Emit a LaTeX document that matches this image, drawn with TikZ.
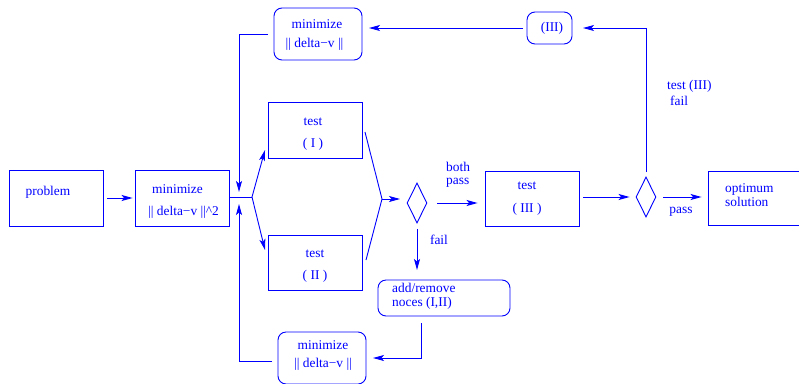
\documentclass[tikz,border=0pt]{standalone}
\usepackage{fontspec}
\setmainfont{Liberation Serif}
\usetikzlibrary{arrows.meta,shapes.geometric}
\begin{document}
\begin{tikzpicture}[x=1pt,y=-1pt,
  every node/.style={text=blue},
  box/.style={draw=blue, line width=0.9pt, inner sep=0pt},
  rbox/.style={box, rounded corners=8pt},
  dia/.style={draw=blue, line width=0.9pt, diamond, inner sep=0pt, minimum width=20pt, minimum height=40pt},
  lbl/.style={font=\fontsize{13.4}{15}\selectfont, inner sep=0pt},
  wire/.style={draw=blue, line width=0.9pt},
  arr/.style={wire, -{Stealth[length=11pt,width=6pt,inset=2.5pt]}}]
\useasboundingbox (0,0) rectangle (799,383);
% boxes
\node[box, minimum width=94pt, minimum height=56pt] (prob) at (56,198) {};
\node[box, minimum width=94pt, minimum height=56pt] (min2) at (182,198) {};
\node[box, minimum width=94pt, minimum height=56pt] (t1) at (315,130) {};
\node[box, minimum width=94pt, minimum height=55pt] (t2) at (315,262.5) {};
\node[box, minimum width=94pt, minimum height=55pt] (t3) at (532,198.5) {};
\node[box, minimum width=98pt, minimum height=54pt] (opt) at (757,198) {};
\node[rbox, minimum width=88pt, minimum height=52pt] (mtop) at (318,34) {};
\node[rbox, minimum width=88pt, minimum height=52pt] (mbot) at (322,358) {};
\node[rbox, minimum width=45pt, minimum height=32pt] (b3) at (549.5,28) {};
\node[rbox, minimum width=132pt, minimum height=36pt] (add) at (444,298) {};
\node[dia] (d1) at (417,203) {};
\node[dia] (d2) at (646,197) {};
% texts
\node[lbl] (tprob) at (48,192) {problem};
\node[lbl] (tmin2a) at (177.5,189) {minimize};
\node[lbl, anchor=west] (tmin2b) at (148,212) {|| delta−v ||\textasciicircum 2};
\node[lbl] (tt1a) at (313,122) {test};
\node[lbl] (tt1b) at (313,144) {( I )};
\node[lbl] (tt2a) at (315,254) {test};
\node[lbl] (tt2b) at (315,276) {( II )};
\node[lbl] (tt3a) at (527,186) {test};
\node[lbl] (tt3b) at (527,209) {( III )};
\node[lbl, anchor=west] (topta) at (725,189) {optimum};
\node[lbl, anchor=west] (toptb) at (725,202) {solution};
\node[lbl] (tmtopa) at (317,24) {minimize};
\node[lbl] (tmtopb) at (314.5,44) {|| delta−v ||};
\node[lbl] (tmbota) at (323,345) {minimize};
\node[lbl] (tmbotb) at (323,364) {|| delta−v ||};
\node[lbl] (tb3) at (552,28) {(III)};
\node[lbl, anchor=west] (tadda) at (392,288) {add/remove};
\node[lbl, anchor=west] (taddb) at (392,303) {noces (I,II)};
\node[lbl, anchor=west] (lboth) at (446,167) {both};
\node[lbl, anchor=west] (lpass1) at (446,183) {pass};
\node[lbl] (lpass2) at (681,212) {pass};
\node[lbl] (lfail1) at (439,240) {fail};
\node[lbl, anchor=west] (lt3) at (667,86) {test (III)};
\node[lbl, anchor=west] (lfail2) at (670,101) {fail};
% coordinates
\coordinate (br) at (252,197);
\coordinate (t1in) at (265,150);
\coordinate (t2in) at (265,250);
\coordinate (t1out) at (365,132);
\coordinate (t2out) at (366,260);
\coordinate (jn) at (382,199);
\coordinate (d1in) at (400,199);
\coordinate (vtop) at (239,34);
\coordinate (vtopend) at (239,192);
\coordinate (vbot) at (239,361);
\coordinate (vbotend) at (239,204);
\coordinate (mtopout) at (268,34);
\coordinate (mbotout) at (272,361);
\coordinate (d2up) at (646,172);
\coordinate (corner) at (646,28);
\coordinate (b3in) at (583,28);
\coordinate (b3out) at (523,28);
\coordinate (mtopin) at (369,28);
\coordinate (d1down) at (417,229);
\coordinate (addin) at (417,270);
\coordinate (addout) at (421,323);
\coordinate (addcorner) at (421,358);
\coordinate (mbotin) at (373,358);
% connectors
\draw[arr] (prob.east)++(4,0) -- ([xshift=-2pt]min2.west);
\draw[wire] (min2.east |- br) -- (br);
\draw[arr] (br) -- (t1in);
\draw[arr] (br) -- (t2in);
\draw[wire] (t1out) -- (jn) -- (t2out);
\draw[arr] (jn) -- (d1in);
\draw[arr] (mtopout) -- (vtop) -- (vtopend);
\draw[arr] (mbotout) -- (vbot) -- (vbotend);
\draw[arr] ([xshift=10pt]d1.east) -- ([xshift=-7pt]t3.west |- d1.east);
\draw[arr] ([xshift=4pt]t3.east |- d2.west) -- ([xshift=-6pt]d2.west);
\draw[arr] ([xshift=7pt]d2.east) -- ([xshift=-6pt]opt.west |- d2.east);
\draw[arr] (d2up) -- (corner) -- (b3in);
\draw[arr] (b3out) -- (mtopin);
\draw[arr] (d1down) -- (addin);
\draw[arr] (addout) -- (addcorner) -- (mbotin);
\end{tikzpicture}
\end{document}
